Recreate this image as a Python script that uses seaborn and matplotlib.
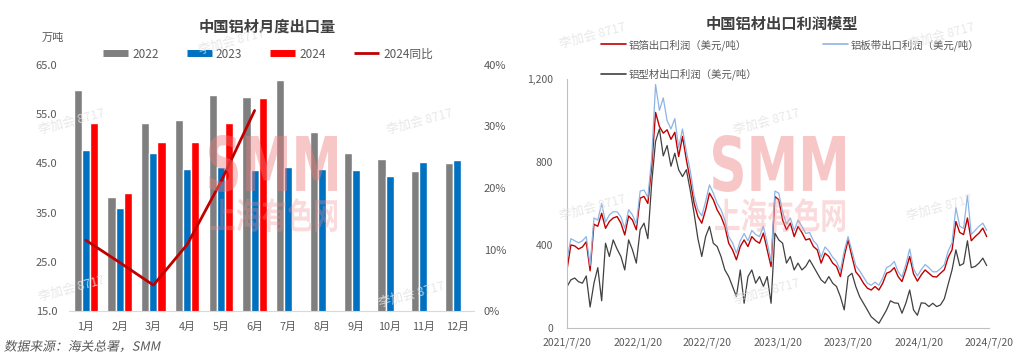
import numpy as np
import pandas as pd
import matplotlib
matplotlib.use('Agg')
import matplotlib.pyplot as plt
import seaborn as sns
from matplotlib.lines import Line2D
from matplotlib.textpath import TextPath
from matplotlib.patches import PathPatch
from matplotlib.font_manager import FontProperties
from matplotlib.transforms import Affine2D

# ---------------- data: left chart ----------------
months = ['1月', '2月', '3月', '4月', '5月', '6月', '7月', '8月', '9月', '10月', '11月', '12月']
exp_2022 = [60.0, 38.2, 53.2, 53.9, 58.9, 58.4, 61.9, 51.4, 47.1, 45.9, 43.4, 45.0]
exp_2023 = [47.8, 36.0, 47.1, 43.9, 44.3, 43.7, 44.3, 43.9, 43.6, 42.4, 45.2, 45.6]
exp_2024 = [53.2, 39.0, 49.3, 49.3, 53.2, 58.2]
yoy_2024 = [11.5, 7.9, 4.2, 10.8, 21.0, 32.6]   # percent
left_yticks = [15, 25, 35, 45, 55, 65]
right_yticks = [0, 10, 20, 30, 40]

# ---------------- data: right chart (10-day samples from 2021-07-20) ----------------
start_date = '2021-07-20'
foil = [280, 400, 395, 380, 390, 415, 275, 500, 490, 553, 480, 513, 530, 537, 505, 448, 540, 520, 473, 626,
        634, 600, 780, 1040, 972, 940, 956, 910, 944, 827, 924, 811, 714, 602, 537, 505, 569, 650, 618, 569,
        537, 489, 408, 376, 328, 392, 424, 392, 440, 420, 408, 457, 376, 295, 634, 618, 520, 473, 505, 440,
        489, 460, 424, 430, 392, 376, 312, 360, 344, 312, 296, 247, 344, 424, 344, 270, 247, 215, 191, 182,
        199, 182, 215, 263, 271, 290, 247, 223, 279, 344, 260, 225, 255, 279, 263, 247, 245, 263, 280, 340,
        376, 513, 460, 450, 530, 420, 440, 457, 481, 440]
strip = [330, 430, 420, 410, 420, 440, 300, 530, 520, 600, 510, 545, 560, 560, 535, 480, 570, 545, 500, 660,
         665, 630, 820, 1175, 1050, 1110, 1000, 960, 1010, 870, 960, 850, 760, 640, 570, 540, 610, 690, 650, 600,
         570, 520, 440, 410, 360, 420, 455, 420, 470, 450, 440, 490, 410, 320, 660, 650, 560, 500, 530, 470,
         520, 490, 455, 460, 420, 400, 340, 390, 370, 340, 320, 275, 370, 440, 370, 300, 275, 245, 215, 205,
         220, 205, 240, 290, 300, 320, 270, 245, 305, 380, 285, 250, 280, 305, 290, 270, 270, 285, 305, 370,
         410, 580, 490, 480, 640, 450, 470, 490, 505, 470]
profile = [198, 231, 240, 222, 215, 250, 100, 215, 290, 130, 408, 344, 424, 380, 344, 279, 424, 376, 312, 473,
           505, 430, 700, 900, 960, 830, 880, 780, 843, 763, 730, 763, 665, 553, 430, 344, 440, 489, 408, 392,
           344, 279, 247, 199, 150, 279, 118, 247, 279, 215, 247, 199, 247, 118, 457, 424, 408, 312, 344, 279,
           312, 279, 296, 328, 296, 263, 231, 215, 247, 215, 199, 150, 86, 247, 263, 199, 150, 118, 86, 53,
           37, 21, 53, 86, 130, 120, 118, 70, 118, 182, 86, 60, 120, 118, 102, 118, 102, 110, 140, 210,
           279, 376, 300, 310, 420, 290, 296, 312, 336, 300]
x_tick_dates = ['2021-07-20', '2022-01-20', '2022-07-20', '2023-01-20', '2023-07-20', '2024-01-20', '2024-07-20']
x_tick_labels = ['2021/7/20', '2022/1/20', '2022/7/20', '2023/1/20', '2023/7/20', '2024/1/20', '2024/7/20']
r_yticks = [0, 400, 800, 1200]
r_ylabels = ['0', '400', '800', '1,200']

# ---------------- style ----------------
sns.set_style('white')
plt.rcParams['font.family'] = ['Noto Sans CJK SC', 'DejaVu Sans']
plt.rcParams['axes.unicode_minus'] = False

C_GRAY, C_BLUE, C_RED, C_LINE = '#7f7f7f', '#0070c0', '#ff0000', '#c00000'
TXT = '#595959'

W, H = 1024, 358
fig = plt.figure(figsize=(W / 100, H / 100), dpi=100)
fig.patch.set_facecolor('white')


def fx(px):
    return px / W


def fy(py):
    return 1 - py / H


# ---------------- left chart ----------------
ax = fig.add_axes([fx(69), fy(311), fx(474) - fx(69), fy(65) - fy(311)])
n = len(months)
df = pd.DataFrame({
    '月份': months * 3,
    '年份': ['2022'] * n + ['2023'] * n + ['2024'] * n,
    '出口量': exp_2022 + exp_2023 + exp_2024 + [np.nan] * (n - len(exp_2024)),
})
sns.barplot(data=df, x='月份', y='出口量', hue='年份', order=months, hue_order=['2022', '2023', '2024'],
            palette=[C_GRAY, C_BLUE, C_RED], width=0.72, gap=0, errorbar=None, legend=False,
            saturation=1, ax=ax)
ax.set_xlim(-0.5, n - 0.5)
ax.set_ylim(left_yticks[0], left_yticks[-1])
ax.set_yticks(left_yticks)
ax.set_yticklabels([f'{v:.1f}' for v in left_yticks])
ax.set_xlabel('')
ax.set_ylabel('')
for s in ['top', 'left', 'right']:
    ax.spines[s].set_visible(False)
ax.spines['bottom'].set_color('#d9d9d9')
ax.tick_params(axis='y', length=0, pad=8.5, labelsize=8, labelcolor=TXT)
ax.tick_params(axis='x', length=0, pad=8, labelsize=7.8, labelcolor=TXT)

ax2 = ax.twinx()
sns.lineplot(x=np.arange(len(yoy_2024)), y=np.array(yoy_2024) / 100, color=C_LINE, linewidth=2, ax=ax2)
ax2.set_ylim(right_yticks[0] / 100, right_yticks[-1] / 100)
ax2.set_yticks([v / 100 for v in right_yticks])
ax2.set_yticklabels([f'{v}%' for v in right_yticks])
ax2.set_xlim(-0.5, n - 0.5)
ax2.set_ylabel('')
for s in ['top', 'left', 'right', 'bottom']:
    ax2.spines[s].set_visible(False)
ax2.tick_params(axis='y', length=0, pad=7, labelsize=8, labelcolor=TXT)

fig.text(fx(267), fy(27), '中国铝材月度出口量', ha='center', va='center', fontsize=11,
         fontweight='bold', color='#404040')
fig.text(fx(53), fy(38), '万吨', ha='center', va='center', fontsize=8, color=TXT)
handles = [Line2D([], [], color=C_GRAY, lw=5, solid_capstyle='butt'),
           Line2D([], [], color=C_BLUE, lw=5, solid_capstyle='butt'),
           Line2D([], [], color=C_RED, lw=5, solid_capstyle='butt'),
           Line2D([], [], color=C_LINE, lw=2, solid_capstyle='butt')]
leg = fig.legend(handles=handles, labels=['2022', '2023', '2024', '2024同比'], ncol=4, loc='center',
                 bbox_to_anchor=(fx(268), fy(54)), frameon=False, fontsize=8.5, handlelength=2.1,
                 handletextpad=0.35, columnspacing=2.4, borderpad=0)
for t in leg.get_texts():
    t.set_color(TXT)

# ---------------- right chart ----------------
axr = fig.add_axes([fx(567), fy(327.7), fx(989) - fx(567), fy(79.3) - fy(327.7)])
dates = pd.date_range(start_date, periods=len(foil), freq='10D')
sns.lineplot(x=dates, y=foil, color='#c00000', linewidth=1.0, ax=axr)
sns.lineplot(x=dates, y=strip, color='#8eb4e3', linewidth=0.9, ax=axr)
sns.lineplot(x=dates, y=profile, color='#404040', linewidth=0.9, ax=axr)
tick_dt = pd.to_datetime(x_tick_dates)
axr.set_xlim(tick_dt[0], tick_dt[-1])
axr.set_xticks(tick_dt)
axr.set_xticklabels(x_tick_labels)
axr.set_ylim(r_yticks[0], r_yticks[-1])
axr.set_yticks(r_yticks)
axr.set_yticklabels(r_ylabels)
axr.set_xlabel('')
axr.set_ylabel('')
for s in ['top', 'right']:
    axr.spines[s].set_visible(False)
for s in ['left', 'bottom']:
    axr.spines[s].set_color('#bfbfbf')
    axr.spines[s].set_linewidth(0.8)
axr.tick_params(axis='x', direction='in', length=3, width=0.8, color='#bfbfbf', pad=7,
                labelsize=7.5, labelcolor=TXT)
axr.tick_params(axis='y', direction='out', length=3, width=0.8, color='#bfbfbf', pad=7,
                labelsize=7.5, labelcolor=TXT)

fig.text(fx(782), fy(24), '中国铝材出口利润模型', ha='center', va='center', fontsize=11,
         fontweight='bold', color='#404040')
rh = [Line2D([], [], color='#c00000', lw=1.2), Line2D([], [], color='#404040', lw=1.2),
      Line2D([], [], color='#8eb4e3', lw=1.2)]
rl = ['铝箔出口利润（美元/吨）', '铝型材出口利润（美元/吨）', '铝板带出口利润（美元/吨）']
legr = fig.legend(handles=rh, labels=rl, ncol=2, loc='upper left', bbox_to_anchor=(fx(601), fy(39)),
                  frameon=False, fontsize=7.5, handlelength=2.4, handletextpad=0.25, columnspacing=6.3,
                  labelspacing=1.7, borderpad=0, borderaxespad=0)
for t in legr.get_texts():
    t.set_color(TXT)


# ---------------- path-drawn text (logos, oblique source note) ----------------
def path_text(text, x0, x1, y0, y1, color, alpha, family, weight='bold', shear=0.0, z=5):
    tp = TextPath((0, 0), text, size=100, prop=FontProperties(family=family, weight=weight))
    bb = tp.get_extents()
    tr = Affine2D().translate(-bb.x0, -bb.y0).skew(shear, 0) \
        .scale((x1 - x0) / (bb.width + shear * bb.height), (y1 - y0) / bb.height) \
        .translate(x0, H - y1)
    fig.add_artist(PathPatch(tp, transform=tr, facecolor=color, edgecolor='none', alpha=alpha, zorder=z))


# source note, oblique like the original
path_text('数据来源：海关总署，SMM', 4, 161, 340, 352, TXT, 1.0, 'Noto Sans CJK SC',
          weight='normal', shear=0.2, z=7)

for (a, b) in [(209, 337), (713, 845)]:
    path_text('SMM', a, b, 135, 192, '#ee7b7b', 0.42, 'DejaVu Sans')
    path_text('上海有色网', a + 2, b, 198, 232, '#f08e8e', 0.32, 'Noto Sans CJK SC')

for (x, y) in [(72, 122), (420, 122), (72, 289), (412, 295), (232, 42),
               (593, 36), (942, 36), (767, 122), (593, 208), (940, 208), (767, 292)]:
    fig.text(fx(x), fy(y), '李加会 8717', ha='center', va='center', fontsize=9, rotation=15,
             color='#e3e3e3', alpha=0.8, zorder=6)

fig.savefig('out.png', dpi=100, facecolor='white')
